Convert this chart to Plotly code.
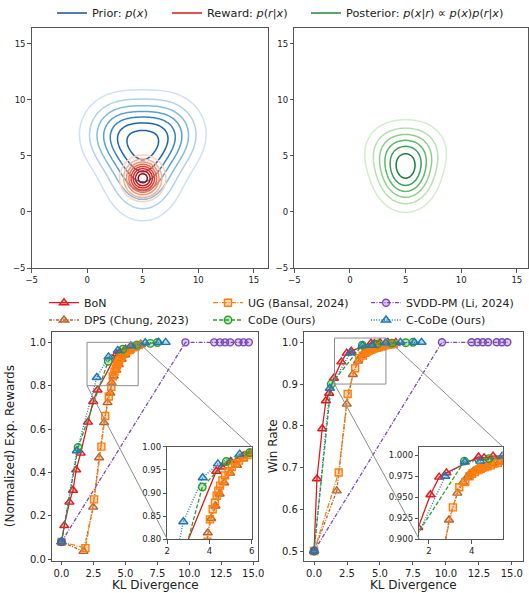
import numpy as np
import plotly.graph_objects as go

W, H = 529, 593
FONT = "DejaVu Sans"

# ---------------- toy 2-D densities (parameters) ----------------
prior_means = [(3.0, 7.0), (7.0, 7.0), (5.0, 3.4)]
prior_sx = [2.1, 2.1, 2.0]
prior_sy = [2.05, 2.05, 2.4]
prior_weights = [1.0, 1.0, 1.0]
reward_mean = (5.0, 3.0)
reward_sigma = 1.0
posterior_reward_sigma = 2.75

# contour line colours, outermost level first
prior_colors = ['#d0e1f2', '#b7d4ea', '#94c4df', '#6aaed6', '#4a98c9', '#2e7ebc', '#1764ab']
reward_colors = ['#fdd0bc', '#fcaf93', '#fc8d6d', '#f96a4a', '#ef3b2c', '#d92523', '#bb151a', '#980c13']
post_colors = ['#d3eecd', '#b5e1ae', '#8ed08b', '#5db96b', '#37a055', '#1b7e3c']

# ---------------- curves: KL divergence vs. metric ----------------
methods = ["BoN", "DPS (Chung, 2023)", "UG (Bansal, 2024)", "CoDe (Ours)",
           "SVDD-PM (Li, 2024)", "C-CoDe (Ours)"]

bon_kl = [0.0, 0.22, 0.62, 0.9, 1.15, 1.5, 2.07, 2.48, 2.82, 4.32, 4.58, 5.0, 5.6, 6.2]
bon_rew = [0.08, 0.155, 0.263, 0.318, 0.412, 0.489, 0.632, 0.727, 0.78, 0.947, 0.956, 0.968, 0.98, 0.99]
bon_win = [0.5, 0.673, 0.793, 0.86, 0.878, 0.914, 0.953, 0.974, 0.979, 0.998, 0.997, 0.999, 1.0, 1.0]

dps_kl = [0.0, 1.72, 2.48, 2.94, 3.33, 3.6, 3.82, 3.92, 4.08, 4.28, 4.48, 4.7, 4.98, 5.3, 5.6, 5.9, 6.2]
dps_rew = [0.08, 0.036, 0.24, 0.468, 0.63, 0.722, 0.766, 0.814, 0.845, 0.872, 0.898, 0.922, 0.943, 0.96, 0.974, 0.984, 0.99]
dps_win = [0.5, 0.644, 0.852, 0.923, 0.955, 0.968, 0.975, 0.978, 0.981, 0.984, 0.986, 0.988, 0.99, 0.992, 0.994, 0.996, 0.997]

ug_kl = [0.0, 1.87, 2.55, 3.12, 3.42, 3.7, 3.9, 4.02, 4.15, 4.26, 4.34, 4.42, 4.5, 4.61, 4.74, 4.9, 5.06, 5.22, 5.4, 5.61, 5.82, 6.05]
ug_rew = [0.08, 0.051, 0.276, 0.519, 0.66, 0.75, 0.795, 0.843, 0.865, 0.879, 0.894, 0.905, 0.916, 0.927, 0.938, 0.947, 0.956, 0.963, 0.97, 0.977, 0.982, 0.988]
ug_win = [0.5, 0.688, 0.876, 0.938, 0.962, 0.968, 0.975, 0.978, 0.98, 0.982, 0.983, 0.984, 0.985, 0.986, 0.987, 0.988, 0.99, 0.991, 0.993, 0.994, 0.995, 0.996]

code_kl = [0.0, 1.3, 3.66, 4.8, 5.9, 6.95, 7.5]
code_rew = [0.08, 0.515, 0.913, 0.968, 0.987, 0.995, 0.999]
code_win = [0.5, 0.9, 0.993, 0.996, 0.998, 0.999, 1.0]

svdd_kl = [0.0, 9.7, 11.95, 12.4, 12.8, 13.2, 13.85, 14.25, 14.66]
svdd_rew = [0.08, 1.0, 1.0, 1.0, 1.0, 1.0, 1.0, 1.0, 1.0]
svdd_win = [0.5, 1.0, 1.0, 1.0, 1.0, 1.0, 1.0, 1.0, 1.0]

ccode_kl = [0.0, 1.2, 2.76, 3.68, 4.4, 5.43, 6.55, 7.6, 8.15]
ccode_rew = [0.08, 0.5, 0.838, 0.933, 0.963, 0.984, 0.998, 1.0, 1.0]
ccode_win = [0.5, 0.89, 0.975, 0.992, 0.993, 0.999, 1.0, 1.0, 1.0]

kl_data = [bon_kl, dps_kl, ug_kl, code_kl, svdd_kl, ccode_kl]
rew_data = [bon_rew, dps_rew, ug_rew, code_rew, svdd_rew, ccode_rew]
win_data = [bon_win, dps_win, ug_win, code_win, svdd_win, ccode_win]

colors = ["#e31a1c", "#b8612b", "#ff7f0e", "#2ca02c", "#7b48b8", "#1f77b4"]
symbols = ["triangle-up", "triangle-up", "square", "circle", "circle", "triangle-up"]
dashes = ["solid", "3px,1.5px,1px,1.5px", "5px,1.5px,1px,1.5px", "4px,2px",
          "4px,1.5px,1px,1.5px", "1px,1.6px"]
msizes = [8, 8, 7, 7.5, 7, 8]


def cscale(cols):
    n = len(cols) - 1
    return [[i / n, c] for i, c in enumerate(cols)]


def rgba(h, a):
    h = h.lstrip('#')
    return "rgba(%d,%d,%d,%.2f)" % (int(h[0:2], 16), int(h[2:4], 16), int(h[4:6], 16), a)


# ---------------- density grids ----------------
grid = np.linspace(-5, 16.5, 173)
X, Y = np.meshgrid(grid, grid)


def gauss(mx, my, sx, sy):
    return np.exp(-(X - mx) ** 2 / (2 * sx * sx) - (Y - my) ** 2 / (2 * sy * sy))


prior = sum(w * gauss(mx, my, sx, sy)
            for (mx, my), sx, sy, w in zip(prior_means, prior_sx, prior_sy, prior_weights))
prior = prior / prior.max()
reward = gauss(reward_mean[0], reward_mean[1], reward_sigma, reward_sigma)
post = prior * gauss(reward_mean[0], reward_mean[1], posterior_reward_sigma, posterior_reward_sigma)
post = post / post.max()

fig = go.Figure()


def add_contour(z, cols, xa, ya):
    nlev = len(cols)
    step = 1.0 / (nlev + 0.7)
    fig.add_trace(go.Contour(
        x=grid, y=grid, z=np.round(z, 5),
        contours=dict(coloring="lines", start=step, end=step * nlev + 1e-9, size=step),
        colorscale=cscale(cols), zmin=step, zmax=step * nlev, showscale=False,
        line=dict(width=1.5), hoverinfo="skip", showlegend=False, xaxis=xa, yaxis=ya))


add_contour(prior, prior_colors, "x", "y")
add_contour(reward, reward_colors, "x", "y")
add_contour(post, post_colors, "x2", "y2")

# top legend entries
top_names = ["Prior: <i>p</i>(<i>x</i>)", "Reward: <i>p</i>(<i>r</i>|<i>x</i>)",
             "Posterior: <i>p</i>(<i>x</i>|<i>r</i>) ∝ <i>p</i>(<i>x</i>)<i>p</i>(<i>r</i>|<i>x</i>)"]
top_cols = ["#1f4e96", "#d7191c", "#1a8a3f"]
for i, (nm, c) in enumerate(zip(top_names, top_cols)):
    fig.add_trace(go.Scatter(x=[None], y=[None], mode="lines", name=nm,
                             line=dict(color=c, width=1.6), xaxis="x", yaxis="y",
                             showlegend=True, legend="legend%d" % (i + 2)))

# curves
for k in range(6):
    for (xa, ya, metric, show) in [("x3", "y3", rew_data, True), ("x4", "y4", rew_data, False),
                                   ("x5", "y5", win_data, False), ("x6", "y6", win_data, False)]:
        fig.add_trace(go.Scatter(
            x=kl_data[k], y=metric[k], mode="lines+markers", name=methods[k],
            line=dict(color=colors[k], width=1.3, dash=dashes[k]),
            marker=dict(symbol=symbols[k], size=msizes[k], color=rgba(colors[k], 0.28),
                        line=dict(color=colors[k], width=1.4)),
            xaxis=xa, yaxis=ya, showlegend=show, legend="legend%d" % (k + 5),
            hoverinfo="skip"))

# ---------------- axes geometry ----------------
def px_dom_x(a, b):
    return [a / W, b / W]


def px_dom_y(top, bot):
    return [1 - bot / H, 1 - top / H]


tickfont = dict(family=FONT, size=10, color="#222")
small = dict(family=FONT, size=8.5, color="#222")
axcommon = dict(showline=True, mirror=True, linecolor="#555", linewidth=1, ticks="outside",
                ticklen=3.5, tickcolor="#555", showgrid=False, zeroline=False, fixedrange=True,
                automargin=False)

ax = {}
ax["xaxis"] = dict(domain=px_dom_x(31.7, 268.3), range=[-5, 16.3], anchor="y",
                   tickvals=[-5, 0, 5, 10, 15], ticktext=["−5", "0", "5", "10", "15"], tickfont=small)
ax["yaxis"] = dict(domain=px_dom_y(28, 268), range=[-5, 16.4], anchor="x",
                   tickvals=[-5, 0, 5, 10, 15], ticktext=["−5", "0", "5", "10", "15"], tickfont=small)
ax["xaxis2"] = dict(domain=px_dom_x(294.3, 528), range=[-5, 16.0], anchor="y2",
                    tickvals=[-5, 0, 5, 10, 15], ticktext=["−5", "0", "5", "10", "15"], tickfont=small)
ax["yaxis2"] = dict(domain=px_dom_y(28, 268), range=[-5, 16.4], anchor="x2",
                    tickvals=[-5, 0, 5, 10, 15], ticktext=["−5", "0", "5", "10", "15"], tickfont=small)

klticks = [0, 2.5, 5, 7.5, 10, 12.5, 15]
klticktext = ["0.0", "2.5", "5.0", "7.5", "10.0", "12.5", "15.0"]
main_y_dom = px_dom_y(331.7, 560.7)
inset_y_dom = px_dom_y(446.7, 539.3)

x3dom, x3rng = px_dom_x(52.3, 258.3), [-0.72, 15.4]
y3rng = [-0.007, 1.049]
x4dom, x4rng = px_dom_x(167.3, 251.7), [2, 6]
y4rng = [0.8, 1.0]
x5dom, x5rng = px_dom_x(304.3, 523.3), [-0.74, 15.87]
y5rng = [0.4768, 1.0254]
x6dom, x6rng = px_dom_x(419.3, 502.7), [1.55, 5.45]
y6rng = [0.9, 1.0102]

ax["xaxis3"] = dict(domain=x3dom, range=x3rng, anchor="y3", tickvals=klticks, ticktext=klticktext, tickfont=tickfont)
ax["yaxis3"] = dict(domain=main_y_dom, range=y3rng, anchor="x3", tickvals=[0, 0.2, 0.4, 0.6, 0.8, 1.0],
                    ticktext=["0.0", "0.2", "0.4", "0.6", "0.8", "1.0"], tickfont=tickfont)
ax["xaxis4"] = dict(domain=x4dom, range=x4rng, anchor="y4", tickvals=[2, 4, 6], ticktext=["2", "4", "6"], tickfont=small)
ax["yaxis4"] = dict(domain=inset_y_dom, range=y4rng, anchor="x4", tickvals=[0.8, 0.85, 0.9, 0.95, 1.0],
                    ticktext=["0.80", "0.85", "0.90", "0.95", "1.00"], tickfont=small)
ax["xaxis5"] = dict(domain=x5dom, range=x5rng, anchor="y5", tickvals=klticks, ticktext=klticktext, tickfont=tickfont)
ax["yaxis5"] = dict(domain=main_y_dom, range=y5rng, anchor="x5", tickvals=[0.5, 0.6, 0.7, 0.8, 0.9, 1.0],
                    ticktext=["0.5", "0.6", "0.7", "0.8", "0.9", "1.0"], tickfont=tickfont)
ax["xaxis6"] = dict(domain=x6dom, range=x6rng, anchor="y6", tickvals=[2, 4], ticktext=["2", "4"], tickfont=small)
ax["yaxis6"] = dict(domain=inset_y_dom, range=y6rng, anchor="x6", tickvals=[0.9, 0.925, 0.95, 0.975, 1.0],
                    ticktext=["0.900", "0.925", "0.950", "0.975", "1.000"], tickfont=small)
for k in ax:
    ax[k].update(axcommon)


def to_paper(dom, rng, v):
    return dom[0] + (v - rng[0]) / (rng[1] - rng[0]) * (dom[1] - dom[0])


shapes = []
for (xr, yr, xdom, xrng, ydom, yrng, ixdom, ixrng, iydom, iyrng) in [
        ("x3", "y3", x3dom, x3rng, main_y_dom, y3rng, x4dom, x4rng, inset_y_dom, y4rng),
        ("x5", "y5", x5dom, x5rng, main_y_dom, y5rng, x6dom, x6rng, inset_y_dom, y6rng)]:
    shapes.append(dict(type="rect", xref=xr, yref=yr, x0=ixrng[0], x1=ixrng[1], y0=iyrng[0], y1=iyrng[1],
                       line=dict(color="#8c8c8c", width=1)))
    shapes.append(dict(type="line", xref="paper", yref="paper",
                       x0=to_paper(xdom, xrng, ixrng[0]), y0=to_paper(ydom, yrng, iyrng[0]),
                       x1=ixdom[0], y1=iydom[0], line=dict(color="#8c8c8c", width=1)))
    shapes.append(dict(type="line", xref="paper", yref="paper",
                       x0=to_paper(xdom, xrng, ixrng[1]), y0=to_paper(ydom, yrng, iyrng[1]),
                       x1=ixdom[1], y1=iydom[1], line=dict(color="#8c8c8c", width=1)))

titlefont = dict(family=FONT, size=12, color="#222")
annotations = [
    dict(text="(Normalized) Exp. Rewards", x=10 / W, y=1 - 446.2 / H, xref="paper", yref="paper",
         xanchor="center", yanchor="middle", textangle=-90, showarrow=False, font=titlefont),
    dict(text="Win Rate", x=273 / W, y=1 - 446.2 / H, xref="paper", yref="paper",
         xanchor="center", yanchor="middle", textangle=-90, showarrow=False, font=titlefont),
    dict(text="KL Divergence", x=sum(x3dom) / 2, y=1 - 585 / H, xref="paper", yref="paper",
         xanchor="center", yanchor="middle", showarrow=False, font=titlefont),
    dict(text="KL Divergence", x=sum(x5dom) / 2, y=1 - 585 / H, xref="paper", yref="paper",
         xanchor="center", yanchor="middle", showarrow=False, font=titlefont),
]

legends = {}
top_text_x = [94, 209, 348]
bot_text_x = [86, 86, 250, 250, 408, 408]
bot_row_y = [302.7, 320.0, 302.7, 320.0, 302.7, 320.0]
entries = [(tx, 13.0, 11.3) for tx in top_text_x] + [(tx, ty, 11.0) for tx, ty in zip(bot_text_x, bot_row_y)]
for i, (tx, ty, fs) in enumerate(entries):
    legends["legend%d" % (i + 2)] = dict(
        x=(tx - 42) / W, y=1 - ty / H, xanchor="left", yanchor="middle",
        orientation="h", bgcolor="rgba(0,0,0,0)", font=dict(family=FONT, size=fs, color="#222"),
        itemwidth=30, borderwidth=0)

fig.update_layout(width=W, height=H, margin=dict(l=0, r=0, t=0, b=0, autoexpand=False),
                  paper_bgcolor="white", plot_bgcolor="white", showlegend=True,
                  font=dict(family=FONT, color="#222"),
                  shapes=shapes, annotations=annotations, **ax, **legends)

fig.write_html("out.html", config={"displayModeBar": False, "staticPlot": True},
               post_script="document.body.style.margin='0px';document.body.style.overflow='hidden';")
